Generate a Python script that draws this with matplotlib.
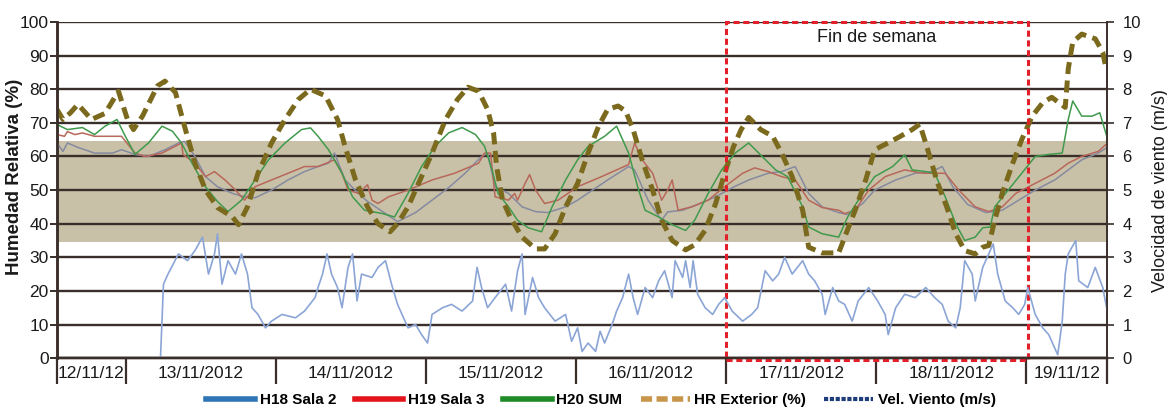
import matplotlib.pyplot as plt
from matplotlib.lines import Line2D
from matplotlib.patches import Rectangle

plt.rcParams['font.family'] = ['Liberation Sans', 'DejaVu Sans']

# time axis: days from 13/11/2012 00:00
day_edges = [-0.46, 0, 1, 2, 3, 4, 5, 6, 6.54]
day_labels = ['12/11/12', '13/11/2012', '14/11/2012', '15/11/2012',
              '16/11/2012', '17/11/2012', '18/11/2012', '19/11/12']

# (day, %HR)
hr_ext = [(-0.46, 74), (-0.42, 71), (-0.37, 73), (-0.32, 75.5), (-0.23, 71), (-0.14, 72.8),
          (-0.05, 79.4), (0.01, 71), (0.05, 68), (0.11, 72), (0.21, 81), (0.26, 82.4),
          (0.33, 79), (0.39, 69), (0.46, 58), (0.53, 50), (0.61, 44.8), (0.71, 42),
          (0.75, 39.7), (0.81, 45), (0.88, 55), (0.97, 64), (1.06, 71), (1.15, 77),
          (1.23, 80), (1.33, 78), (1.41, 71), (1.46, 63), (1.53, 53), (1.61, 45),
          (1.68, 40), (1.76, 37.6), (1.81, 40), (1.88, 45), (1.95, 52), (2.04, 61),
          (2.13, 71), (2.21, 77), (2.28, 80.6), (2.35, 79.4), (2.41, 74), (2.45, 67),
          (2.47, 57), (2.51, 47), (2.56, 42), (2.64, 36), (2.73, 32.5), (2.79, 32.5),
          (2.86, 37), (2.93, 45), (3.01, 52), (3.08, 61), (3.15, 69), (3.21, 74),
          (3.28, 75), (3.33, 73.5), (3.38, 68), (3.44, 59), (3.51, 50), (3.57, 41),
          (3.64, 35), (3.73, 32.2), (3.79, 33.7), (3.86, 38), (3.93, 46), (3.99, 55),
          (4.05, 63), (4.10, 68), (4.15, 71.6), (4.23, 68), (4.31, 66), (4.37, 61),
          (4.44, 54), (4.51, 44), (4.55, 33), (4.64, 31.3), (4.75, 31.3), (4.79, 36),
          (4.86, 44), (4.93, 53), (4.99, 62), (5.06, 63.6), (5.15, 65.7), (5.24, 68),
          (5.29, 69.6), (5.33, 64), (5.37, 58), (5.41, 52), (5.47, 45), (5.53, 37),
          (5.59, 32), (5.66, 31), (5.71, 33), (5.75, 33.5), (5.79, 41), (5.84, 49),
          (5.91, 58), (5.97, 65), (6.04, 72), (6.11, 76), (6.17, 77.6), (6.26, 74.6),
          (6.28, 86), (6.31, 94), (6.37, 96.4), (6.46, 95), (6.51, 91), (6.53, 86.6),
          (6.55, 89)]

h20_sum = [(-0.46, 69.5), (-0.39, 68), (-0.29, 68.6), (-0.21, 66.5), (-0.14, 69), (-0.06, 71),
           (-0.01, 66.5), (0.06, 60.6), (0.15, 64), (0.24, 69), (0.31, 67.5), (0.37, 64),
           (0.44, 58), (0.53, 51), (0.61, 46.6), (0.68, 43.6), (0.77, 47), (0.86, 53),
           (0.95, 59), (1.06, 64), (1.17, 68), (1.23, 68.5), (1.28, 66), (1.35, 62),
           (1.44, 55), (1.51, 48), (1.59, 44), (1.71, 43), (1.79, 42), (1.88, 49),
           (1.97, 57), (2.06, 63), (2.15, 67), (2.24, 68.6), (2.33, 66.5), (2.39, 63),
           (2.44, 56), (2.48, 49), (2.55, 45), (2.61, 41), (2.68, 38.8), (2.77, 37.6),
           (2.84, 45), (2.93, 53), (3.01, 59), (3.08, 63), (3.19, 66), (3.27, 69),
           (3.35, 61), (3.41, 51), (3.46, 44), (3.55, 42), (3.64, 39.7), (3.73, 38),
           (3.79, 41), (3.88, 49), (3.97, 56), (4.06, 61), (4.15, 64), (4.24, 60),
           (4.33, 56), (4.41, 54), (4.51, 45), (4.55, 39), (4.64, 37), (4.75, 36),
           (4.81, 42), (4.91, 49), (4.99, 54), (5.11, 57), (5.19, 60.5), (5.24, 56),
           (5.33, 55.5), (5.39, 55), (5.46, 48), (5.53, 40), (5.59, 35), (5.66, 36),
           (5.71, 38.8), (5.76, 39), (5.79, 45), (5.88, 50), (5.97, 55), (6.06, 60),
           (6.15, 60.6), (6.24, 61), (6.28, 71), (6.31, 76.5), (6.37, 72), (6.44, 72),
           (6.49, 73), (6.53, 67), (6.55, 64)]

h19_sala3 = [(-0.46, 66.5), (-0.41, 66), (-0.39, 67.4), (-0.34, 66.5), (-0.29, 67), (-0.21, 66),
             (-0.03, 66), (0.06, 61), (0.13, 60), (0.24, 61), (0.37, 64), (0.38, 60.6),
             (0.46, 58), (0.53, 54), (0.59, 55.5), (0.66, 53), (0.73, 50), (0.79, 47),
             (0.86, 51), (0.97, 53), (1.08, 55), (1.19, 57), (1.28, 57), (1.39, 59),
             (1.44, 55), (1.48, 50), (1.55, 49), (1.61, 51.6), (1.64, 47), (1.68, 46),
             (1.75, 48), (1.88, 50), (2.04, 53), (2.19, 55), (2.35, 58), (2.39, 61),
             (2.43, 61), (2.46, 48), (2.55, 47), (2.59, 49), (2.61, 47), (2.66, 52),
             (2.69, 54.6), (2.73, 50), (2.79, 46), (2.88, 47), (3.01, 51), (3.17, 54),
             (3.35, 57.6), (3.39, 64), (3.44, 59), (3.51, 55), (3.57, 47), (3.61, 50),
             (3.64, 53), (3.68, 44), (3.77, 45), (3.88, 47), (3.99, 51), (4.11, 55),
             (4.19, 56.6), (4.28, 55.5), (4.37, 54), (4.46, 53), (4.55, 47), (4.64, 44.8),
             (4.75, 44), (4.79, 43), (4.86, 44), (4.95, 50), (5.06, 54), (5.19, 56),
             (5.31, 55), (5.46, 55), (5.55, 50), (5.66, 45), (5.75, 43.6), (5.84, 45),
             (5.93, 49), (6.06, 52), (6.19, 55), (6.28, 58), (6.37, 60), (6.48, 61.5),
             (6.53, 63.5), (6.55, 62)]

h18_sala2 = [(-0.46, 64), (-0.42, 61.5), (-0.39, 64), (-0.32, 62.7), (-0.21, 61), (-0.09, 61),
             (-0.03, 62), (0.06, 60.6), (0.15, 60), (0.26, 62), (0.35, 64), (0.39, 64.5),
             (0.46, 60), (0.53, 54), (0.61, 51), (0.71, 49), (0.79, 48), (0.86, 47.7),
             (0.97, 50), (1.08, 53), (1.19, 55.5), (1.28, 57), (1.35, 58), (1.39, 61),
             (1.46, 53), (1.55, 49), (1.61, 46.6), (1.71, 43.6), (1.81, 40.6), (1.93, 43.3),
             (2.04, 47), (2.15, 50.7), (2.26, 55), (2.37, 60), (2.41, 61), (2.46, 51),
             (2.55, 49), (2.64, 45), (2.73, 43.6), (2.81, 43.3), (2.93, 45), (3.01, 47),
             (3.11, 50), (3.21, 53), (3.35, 57), (3.39, 56), (3.48, 47), (3.57, 41),
             (3.61, 43.5), (3.71, 44), (3.81, 45.7), (3.93, 48), (4.04, 50.7), (4.15, 53),
             (4.28, 55), (4.37, 55.5), (4.46, 57), (4.55, 49), (4.64, 45), (4.75, 43.3),
             (4.81, 42.7), (4.91, 46), (4.99, 50), (5.13, 53), (5.26, 55), (5.37, 55.5),
             (5.44, 57), (5.51, 51), (5.61, 45.7), (5.73, 43.3), (5.84, 44), (5.95, 47),
             (6.06, 50), (6.19, 53), (6.28, 56), (6.37, 59), (6.48, 61), (6.54, 62.7)]

# (day, m/s)
wind = [(0.23, 0), (0.25, 2.2), (0.28, 2.5), (0.35, 3.1), (0.41, 2.9), (0.46, 3.2), (0.51, 3.6),
        (0.55, 2.5), (0.59, 3.1), (0.61, 3.7), (0.64, 2.2), (0.68, 2.9), (0.73, 2.5), (0.77, 3.1),
        (0.81, 2.5), (0.84, 1.5), (0.88, 1.3), (0.93, 0.9), (0.97, 1.1), (1.04, 1.3), (1.13, 1.2),
        (1.19, 1.4), (1.26, 1.8), (1.28, 2.1), (1.31, 2.5), (1.34, 3.1), (1.37, 2.5), (1.41, 2.1),
        (1.44, 1.5), (1.48, 2.7), (1.51, 3.1), (1.54, 1.7), (1.57, 2.5), (1.64, 2.4), (1.68, 2.7),
        (1.73, 2.9), (1.77, 2.2), (1.81, 1.6), (1.88, 0.9), (1.93, 1.0), (1.97, 0.7), (2.01, 0.45),
        (2.04, 1.3), (2.11, 1.5), (2.17, 1.6), (2.24, 1.4), (2.31, 1.7), (2.34, 2.7), (2.37, 2.1),
        (2.41, 1.5), (2.46, 1.8), (2.53, 2.2), (2.57, 1.4), (2.61, 2.6), (2.64, 3.1), (2.66, 1.3),
        (2.71, 2.4), (2.75, 1.8), (2.79, 1.5), (2.86, 1.1), (2.93, 1.3), (2.97, 0.5), (3.01, 0.9),
        (3.04, 0.2), (3.08, 0.45), (3.13, 0.2), (3.16, 0.8), (3.19, 0.45), (3.24, 1.0), (3.27, 1.4),
        (3.31, 1.8), (3.35, 2.5), (3.38, 1.8), (3.41, 1.3), (3.46, 2.1), (3.51, 1.8), (3.55, 2.3),
        (3.59, 2.6), (3.64, 1.8), (3.66, 2.9), (3.71, 2.4), (3.73, 2.9), (3.76, 2.1), (3.78, 2.9),
        (3.81, 1.9), (3.86, 1.5), (3.91, 1.3), (3.95, 1.6), (3.99, 1.8), (4.04, 1.4), (4.11, 1.1),
        (4.17, 1.3), (4.21, 1.5), (4.26, 2.6), (4.31, 2.3), (4.35, 2.5), (4.39, 3.0), (4.44, 2.5),
        (4.51, 2.9), (4.55, 2.5), (4.59, 2.3), (4.64, 1.9), (4.66, 1.3), (4.71, 2.1), (4.75, 1.7),
        (4.79, 1.6), (4.84, 1.1), (4.88, 1.7), (4.95, 2.1), (5.01, 1.7), (5.06, 1.3), (5.08, 0.7),
        (5.13, 1.5), (5.19, 1.9), (5.26, 1.8), (5.33, 2.1), (5.39, 1.8), (5.44, 1.6), (5.48, 1.1),
        (5.53, 0.9), (5.56, 1.5), (5.59, 2.9), (5.64, 2.5), (5.66, 1.7), (5.71, 2.7), (5.75, 3.1),
        (5.78, 3.4), (5.81, 2.5), (5.86, 1.7), (5.91, 1.5), (5.95, 1.3), (5.99, 1.6), (6.01, 2.1),
        (6.06, 1.3), (6.11, 0.9), (6.15, 0.7), (6.19, 0.3), (6.21, 0.1), (6.24, 1.1), (6.26, 2.5),
        (6.28, 3.1), (6.33, 3.5), (6.35, 2.3), (6.41, 2.1), (6.46, 2.7), (6.51, 2.1), (6.54, 1.4)]

band = (34.5, 64.5)
weekend = (4.0, 6.01)

fig = plt.figure(figsize=(11.67, 4.15), dpi=100)
ax = fig.add_axes([0.0488, 0.137, 0.90, 0.81])
ax2 = ax.twinx()

ax.axhspan(band[0], band[1], color='#c9c1a7', zorder=0, lw=0)
for y in range(0, 101, 10):
    ax.axhline(y, color='#3a2e2b', lw=1.7, zorder=1)

def xy(pairs):
    return [p[0] for p in pairs], [p[1] for p in pairs]

ax.plot(*xy(h18_sala2), color='#858aa0', lw=1.1, zorder=3)
ax.plot(*xy(h19_sala3), color='#b8675a', lw=1.1, zorder=3)
ax.plot(*xy(h20_sum), color='#3f9a4c', lw=1.1, zorder=3)
ax.plot(*xy(hr_ext), color='#7b6a1d', lw=3.6, ls=(0, (2.4, 1.3)), zorder=5)

ax2.plot(*xy(wind), color='#8ba5d6', lw=1.2, zorder=2)

ax.add_patch(Rectangle((weekend[0], -0.6), weekend[1] - weekend[0], 100.6, fill=False,
                       ec='#e3202a', lw=2.2, ls=(0, (2, 1.2)), zorder=6, clip_on=False))
ax.text(sum(weekend) / 2, 95.5, 'Fin de semana', ha='center', va='center',
        fontsize=13, color='#1a1a1a', zorder=7)

ax.set_xlim(day_edges[0], day_edges[-1])
ax.set_ylim(0, 100)
ax2.set_ylim(0, 10)
ax.set_yticks(range(0, 101, 10))
ax2.set_yticks(range(0, 11))
ax.set_xticks(day_edges)
ax.set_xticklabels([])
ax.tick_params(axis='x', which='major', length=19, width=1.6, color='#3a2e2b')
centers = [(a + b) / 2 for a, b in zip(day_edges[:-1], day_edges[1:])]
ax.set_xticks(centers, minor=True)
ax.set_xticklabels(day_labels, minor=True, fontsize=12.5, color='#1a1a1a')
ax.tick_params(axis='x', which='minor', length=0, pad=6)
ax.tick_params(axis='y', labelsize=12.5, length=5, width=1.4, color='#3a2e2b', labelcolor='#1a1a1a', pad=1)
ax2.tick_params(axis='y', labelsize=12, length=5, width=1.2, color='#3a2e2b', labelcolor='#1a1a1a', pad=6)

for a in (ax, ax2):
    a.spines['top'].set_visible(False)
    a.spines['left'].set_color('#3a2e2b')
    a.spines['left'].set_linewidth(1.8)
    a.spines['right'].set_color('#3a2e2b')
    a.spines['right'].set_linewidth(1.2)
    a.spines['bottom'].set_color('#3a2e2b')
    a.spines['bottom'].set_linewidth(1.7)

ax.set_ylabel('Humedad Relativa (%)', fontsize=13.5, fontweight='bold', color='#1a1a1a')
ax.yaxis.set_label_coords(-0.0325, 0.54)
ax2.set_ylabel('Velocidad de viento (m/s)', fontsize=13, color='#1a1a1a', labelpad=8)

handles = [Line2D([], [], color='#2e75b6', lw=4),
           Line2D([], [], color='#e3141b', lw=4),
           Line2D([], [], color='#1e8a28', lw=4),
           Line2D([], [], color='#c8964b', lw=4, ls=(0, (2, 0.8))),
           Line2D([], [], color='#1f3d7a', lw=3, ls=(0, (1, 0.4)))]
labels = ['H18 Sala 2', 'H19 Sala 3', 'H20 SUM', 'HR Exterior (%)', 'Vel. Viento (m/s)']
fig.legend(handles, labels, loc='lower center', bbox_to_anchor=(0.515, -0.015), ncol=5,
           frameon=False, handlelength=3.2, columnspacing=1.2, handletextpad=0.3,
           prop={'size': 11, 'weight': 'bold'})

fig.savefig('out.png', dpi=100)
